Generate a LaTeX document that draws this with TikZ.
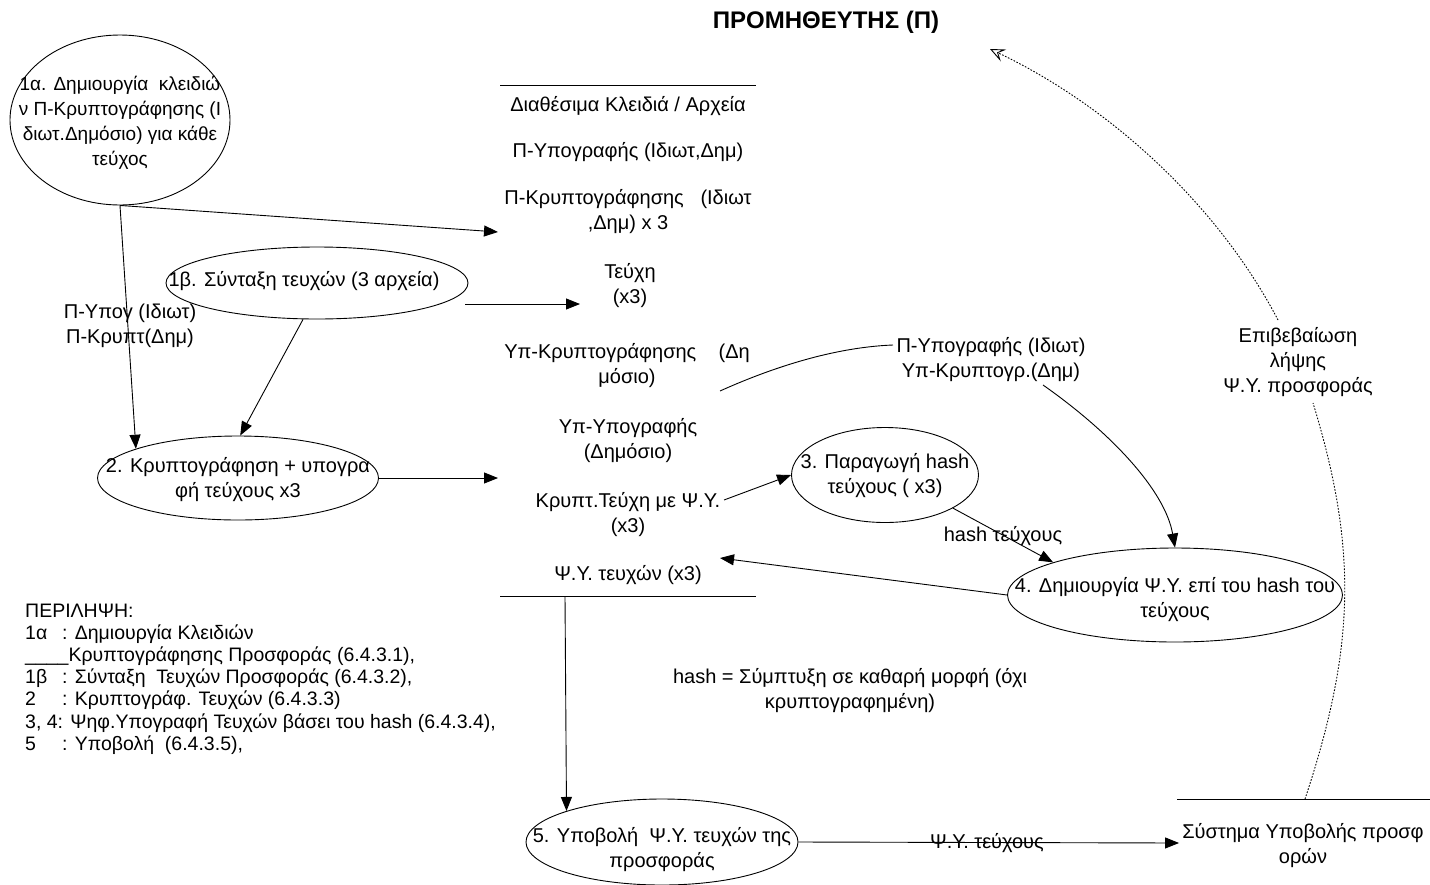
\documentclass[tikz,border=0pt]{standalone}
\usepackage{fontspec}
\setmainfont{Liberation Sans}
\usetikzlibrary{shapes.geometric,arrows.meta,calc}
\tikzset{
  ell/.style={draw, ellipse, inner sep=0pt, line width=0.9pt},
  txt/.style={align=center, inner sep=0pt, font=\fontsize{20}{25}\selectfont},
  arr/.style={line width=0.9pt, -{Triangle[length=14pt, width=11pt]}},
  ln/.style={line width=0.9pt},
  dots/.style={line width=0.9pt, dash pattern=on 1.6pt off 1.6pt},
}
\begin{document}
\begin{tikzpicture}[x=1pt, y=-1pt]
\useasboundingbox (0,0) rectangle (1430,884);

% title
\node[font=\bfseries\fontsize{24}{28}\selectfont] (title) at (826,22) {ΠΡΟΜΗΘΕΥΤΗΣ (Π)};

% ellipses
\node[ell, minimum width=220pt, minimum height=170pt] (e1a) at (120,120) {};
\node[txt, font=\fontsize{19}{25}\selectfont] (t1a) at (120,123) {1α. Δημιουργία\ \ κλειδιώ\\ν Π-Κρυπτογράφησης (Ι\\διωτ.Δημόσιο) για κάθε\\τεύχος};

\node[ell, minimum width=302pt, minimum height=72pt] (e1b) at (317,283) {};
\node[txt] (t1b) at (304,281) {1β. Σύνταξη τευχών (3 αρχεία)};

\node[ell, minimum width=281pt, minimum height=84pt] (e2) at (238,478) {};
\node[txt] (t2) at (238,480) {2. Κρυπτογράφηση + υπογρα\\φή τεύχους x3};

\node[ell, minimum width=187pt, minimum height=95pt] (e3) at (885,475) {};
\node[txt] (t3) at (885,476) {3. Παραγωγή hash\\τεύχους ( x3)};

\node[ell, minimum width=335pt, minimum height=94pt] (e4) at (1175,595) {};
\node[txt] (t4) at (1175,600) {4. Δημιουργία Ψ.Υ. επί του hash του\\τεύχους};

\node[ell, minimum width=272pt, minimum height=86pt] (e5) at (662,842) {};
\node[txt] (t5) at (662,850) {5. Υποβολή\ \ Ψ.Υ. τευχών της\\προσφοράς};

% data store 1
\draw[ln] (500,85) -- (756,85);
\draw[ln] (500,596) -- (756,596);
\node[txt] (s1) at (628,106) {Διαθέσιμα Κλειδιά / Αρχεία};
\node[txt] (s2) at (628,152) {Π-Υπογραφής (Ιδιωτ,Δημ)};
\node[txt] (s3) at (628,212) {Π-Κρυπτογράφησης\ \ \ (Ιδιωτ\\,Δημ) x 3};
\node[txt] (s4) at (630,286) {Τεύχη\\(x3)};
\node[txt] (s5) at (627,366) {Υπ-Κρυπτογράφησης\ \ \ \ (Δη\\μόσιο)};
\node[txt] (s6) at (628,441) {Υπ-Υπογραφής\\(Δημόσιο)};
\node[txt] (s7) at (628,515) {Κρυπτ.Τεύχη με Ψ.Υ.\\(x3)};
\node[txt] (s8) at (628,575) {Ψ.Υ. τευχών (x3)};

\coordinate (sK) at (498,232);
\coordinate (sT) at (580,304);
\coordinate (sC) at (498,478);
\coordinate (sCr) at (724,500);
\coordinate (sP) at (720,558);
\coordinate (sY) at (720,391);
\coordinate (sB) at (565,596);

% data store 2
\draw[ln] (1177,799) -- (1430,799);
\node[txt] (sys) at (1303,846) {Σύστημα Υποβολής προσφ\\ορών};
\coordinate (sysT) at (1305,799);

% labels
\node[txt] (lP) at (130,326) {Π-Υπογ (Ιδιωτ)\\Π-Κρυπτ(Δημ)};
\node[txt] (lPY) at (991,360) {Π-Υπογραφής (Ιδιωτ)\\Υπ-Κρυπτογρ.(Δημ)};
\node[txt] (lH) at (1003,536) {hash τεύχους};
\node[txt] (lPsi) at (987,843) {Ψ.Υ. τεύχους};
\node[txt] (lE) at (1298,362) {Επιβεβαίωση\\λήψης\\Ψ.Υ. προσφοράς};
\node[txt] (note) at (850,691) {hash = Σύμπτυξη σε καθαρή μορφή (όχι\\κρυπτογραφημένη)};

\node[align=left, inner sep=0pt, anchor=west, font=\fontsize{19.5}{22.2}\selectfont] (legend) at (25,679) {%
ΠΕΡΙΛΗΨΗ:\\
\makebox[37pt][l]{1α}: Δημιουργία Κλειδιών\\
\_\_\_\_Κρυπτογράφησης Προσφοράς (6.4.3.1),\\
\makebox[37pt][l]{1β}: Σύνταξη\ \ Τευχών Προσφοράς (6.4.3.2),\\
\makebox[37pt][l]{2}: Κρυπτογράφ. Τευχών (6.4.3.3)\\
3, 4: Ψηφ.Υπογραφή Τευχών βάσει του hash (6.4.3.4),\\
\makebox[37pt][l]{5}: Υποβολή\ \ (6.4.3.5),};

% connectors
\draw[arr] (e1a.south) -- (e2.164);
\draw[arr] (e1a.south) -- (sK);
\draw[arr] (e1b.249) -- (e2.87);
\draw[arr] ($(e1b.east)+(-3,21)$) -- (sT);
\draw[arr] (e2.east) -- (sC);
\draw[arr] (sCr) -- (e3.west);
\draw[arr] (e3.-26) -- (e4.165);
\draw[arr] (e4.west) -- (sP);
\draw[ln] (sY) .. controls (780,364) and (840,347) .. (893,345);
\draw[arr] (1043,385) .. controls (1110,432) and (1165,490) .. (e4.north);
\draw[arr] (sB) -- (e5.162.8);
\draw[arr] (e5.east) -- ($(sys.west |- e5.east)+(-3,1)$);
\draw[dots] (sysT) .. controls (1355,648) and (1358,550) .. (1313,403);
\draw[dots, -{Stealth[open, length=15pt, width=13pt, inset=6pt, line width=0.9pt]}] (1278,320) .. controls (1218,205) and (1110,106) .. (990,49);
\end{tikzpicture}
\end{document}
